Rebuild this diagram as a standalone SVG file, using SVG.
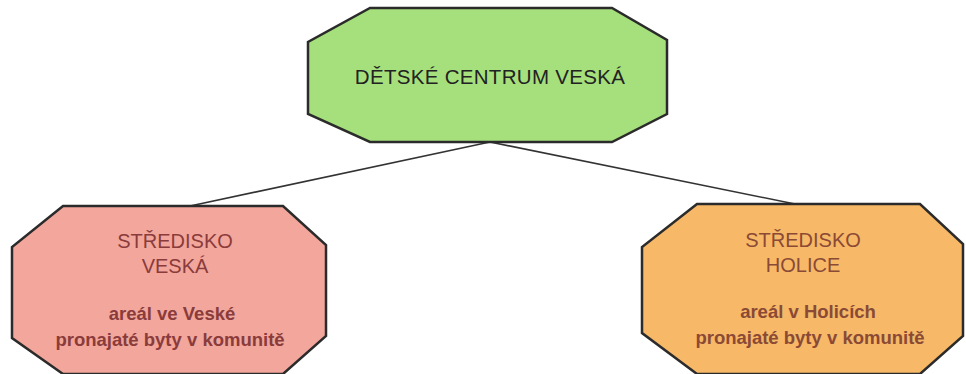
<svg xmlns="http://www.w3.org/2000/svg" width="966" height="374" viewBox="0 0 966 374">
<style>
.oct{stroke:#2b2b2b;stroke-width:2.5;stroke-linejoin:miter}
.t{font-family:"Liberation Sans",Arial,sans-serif;text-anchor:middle}
.h{font-size:20px}
.b{font-size:18.5px;font-weight:bold}
.conn{stroke:#333;stroke-width:1.6;fill:none}
</style>
<rect width="966" height="374" fill="#ffffff"/>
<g id="connectors">
<line class="conn" x1="490" y1="142" x2="190" y2="206"/>
<line class="conn" x1="490" y1="142" x2="795" y2="204"/>
</g>
<g id="node-top">
<polygon class="oct" fill="#a6e07c" points="370,8 612,8 667,40 667,114 612,142 370,142 308,114 308,42"/>
<text class="t" x="490" y="84" font-size="20.5" fill="#222" letter-spacing="0.3">DĚTSKÉ CENTRUM VESKÁ</text>
</g>
<g id="node-veska">
<polygon class="oct" fill="#f3a79c" points="63,206 283,206 326,245 326,336 283,374 63,374 12,338 12,247"/>
<g fill="#8a3b3b">
<text class="t h" x="175" y="248">STŘEDISKO</text>
<text class="t h" x="175" y="273">VESKÁ</text>
<text class="t b" x="172" y="320">areál ve Veské</text>
<text class="t b" x="170" y="346">pronajaté byty v komunitě</text>
</g>
</g>
<g id="node-holice">
<polygon class="oct" fill="#f7b868" points="697,204 920,204 963,244 963,336 920,374 697,374 642,333 642,247"/>
<g fill="#8a4a35">
<text class="t h" x="803" y="247">STŘEDISKO</text>
<text class="t h" x="803" y="272">HOLICE</text>
<text class="t b" x="808" y="318">areál v Holicích</text>
<text class="t b" x="810" y="344">pronajaté byty v komunitě</text>
</g>
</g>
</svg>
